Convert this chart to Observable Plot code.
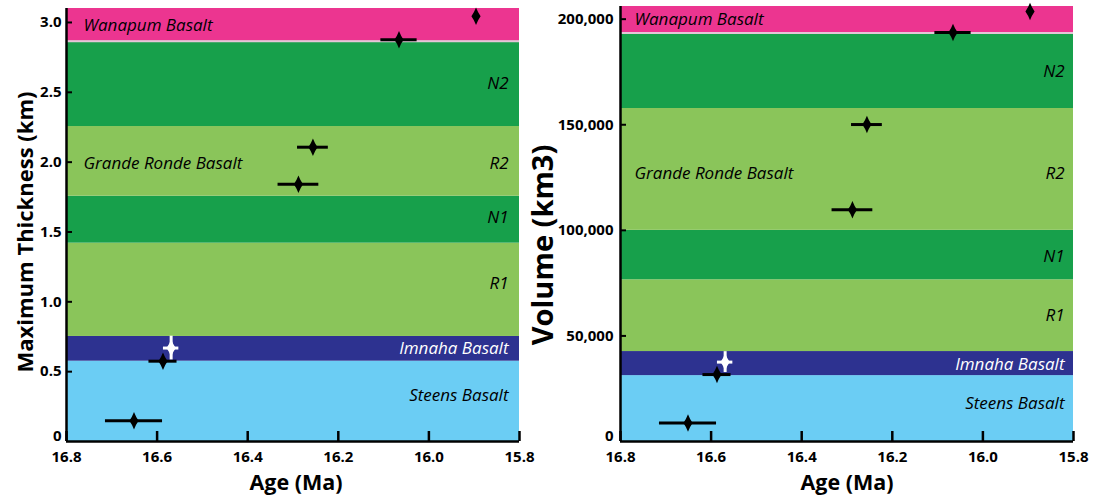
<!DOCTYPE html>
<html>
<head>
<meta charset="utf-8">
<script src="https://cdn.jsdelivr.net/npm/d3@7"></script>
<script src="https://cdn.jsdelivr.net/npm/@observablehq/plot@0.6"></script>
<style>
  html, body { margin: 0; padding: 0; background: #ffffff; }
  #wrap { display: flex; width: 1093px; height: 495px; overflow: hidden; }
</style>
</head>
<body>
<div id="wrap"></div>
<script>
// ---------- data ----------
const ages = [16.651, 16.587, 16.569, 16.288, 16.256, 16.066, 15.896];
const ageErrors = [0.063, 0.031, 0.017, 0.045, 0.034, 0.04, 0];
const thicknessKm = [0.148, 0.575, 0.669, 1.842, 2.107, 2.876, 3.045];
const thicknessErrors = [0, 0, 0.085, 0, 0, 0, 0];
const volumeKm3 = [8800, 31700, 37600, 109800, 150100, 193700, 203600];
const volumeErrors = [0, 0, 4950, 0, 0, 0, 0];
const markerColors = ["black", "black", "white", "black", "black", "black", "black"];

const units = ["Steens Basalt", "Imnaha Basalt", "R1", "N1", "R2", "N2", "Wanapum Basalt"];
const unitColors = ["#6bcdf4", "#2d3290", "#8ac55a", "#17a04b", "#8ac55a", "#17a04b", "#ec3590"];
const thicknessBreaks = [0, 0.575, 0.752, 1.42, 1.756, 2.255, 2.866, 3.1];
const volumeBreaks = [0, 31200, 42600, 76600, 100000, 157700, 193400, 206000];

const bandLabels = ["Wanapum Basalt", "Grande Ronde Basalt", "N2", "R2", "N1", "R1", "Imnaha Basalt", "Steens Basalt"];
const bandLabelSides = ["start", "start", "end", "end", "end", "end", "end", "end"];
const bandLabelColors = ["black", "black", "black", "black", "black", "black", "white", "black"];
const thicknessLabelY = [2.98, 1.99, 2.56, 1.99, 1.6, 1.13, 0.666, 0.33];
const volumeLabelY = [200000, 127100, 175000, 127100, 87700, 59600, 36300, 18000];

const ageTicks = [16.8, 16.6, 16.4, 16.2, 16.0, 15.8];
const thicknessTicks = [0, 0.5, 1.0, 1.5, 2.0, 2.5, 3.0];
const volumeTicks = [0, 50000, 100000, 150000, 200000];

// ---------- helpers ----------
const tallDiamond = {
  draw(context, size) {
    const r = Math.sqrt(size / Math.PI);
    const w = r, h = r * 1.9, c = 0.42;
    context.moveTo(0, -h);
    context.quadraticCurveTo(c * w, -c * h, w, 0);
    context.quadraticCurveTo(c * w, c * h, 0, h);
    context.quadraticCurveTo(-c * w, c * h, -w, 0);
    context.quadraticCurveTo(-c * w, -c * h, 0, -h);
    context.closePath();
  }
};

function panel(cfg) {
  const pts = ages.map((a, i) => ({
    age: a, aerr: ageErrors[i], v: cfg.values[i], verr: cfg.errors[i], c: markerColors[i]
  }));
  const bands = units.map((u, i) => ({
    unit: u, lo: cfg.breaks[i], hi: cfg.breaks[i + 1], c: unitColors[i]
  }));
  const labs = bandLabels.map((t, i) => ({
    text: t, side: bandLabelSides[i], y: cfg.labelY[i], c: bandLabelColors[i]
  }));
  const xMin = ageTicks[0], xMax = ageTicks[ageTicks.length - 1];
  const yBase = cfg.breaks[0];
  return Plot.plot({
    width: cfg.width,
    height: 495,
    marginLeft: cfg.marginLeft,
    marginRight: cfg.marginRight,
    marginTop: cfg.marginTop,
    marginBottom: 54,
    style: { fontFamily: '"Open Sans", sans-serif', background: "transparent", overflow: "visible" },
    x: { domain: [xMin, xMax] },
    y: { domain: [yBase, cfg.breaks[cfg.breaks.length - 1]] },
    color: { type: "identity" },
    marks: [
      Plot.rect(bands, { y1: "lo", y2: "hi", fill: "c" }),
      Plot.ruleY([cfg.breaks[6]], { stroke: "#e3c7d8", strokeWidth: 2 }),
      Plot.text(labs.filter(d => d.side === "start"), {
        x: () => xMin, y: "y", text: "text", fill: "c", textAnchor: "start",
        dx: cfg.startPad, fontSize: 17, fontStyle: "italic", lineAnchor: "middle"
      }),
      Plot.text(labs.filter(d => d.side === "end"), {
        x: () => xMax, y: "y", text: "text", fill: "c", textAnchor: "end",
        dx: -cfg.endPad, fontSize: 17, fontStyle: "italic", lineAnchor: "middle"
      }),
      Plot.ruleY(pts.filter(d => d.aerr > 0), {
        y: "v", x1: d => d.age - d.aerr, x2: d => d.age + d.aerr, stroke: "c", strokeWidth: 3
      }),
      Plot.ruleX(pts.filter(d => d.verr > 0), {
        x: "age", y1: d => d.v - d.verr, y2: d => d.v + d.verr, stroke: "c", strokeWidth: 3
      }),
      Plot.dot(pts, { x: "age", y: "v", fill: "c", symbol: tallDiamond, r: 4.6, stroke: null }),
      Plot.ruleX([xMin], { strokeWidth: 2.5, stroke: "black" }),
      Plot.ruleY([yBase], { strokeWidth: 2.5, stroke: "black" }),
      Plot.axisX({
        ticks: ageTicks, tickFormat: d => d.toFixed(1), tickSize: -10, tickPadding: 20,
        strokeWidth: 2.5, fontSize: 15, fontWeight: "bold", label: null, fill: "black"
      }),
      Plot.axisY({
        ticks: cfg.yTicks.filter(t => t !== yBase), tickFormat: cfg.yFormat, tickSize: -6, tickPadding: cfg.yPad,
        strokeWidth: 2, fontSize: 15, fontWeight: "bold", label: null, fill: "black"
      }),
      Plot.axisY({
        ticks: [yBase], tickFormat: cfg.yFormat, tickSize: 0, tickPadding: cfg.yPad - 6, dy: -5,
        fontSize: 15, fontWeight: "bold", label: null, fill: "black"
      }),
      Plot.text(["Age (Ma)"], {
        frameAnchor: "bottom", text: d => d, dy: 48, dx: cfg.xTitleDx, fontSize: 21.5,
        fontWeight: "bold", lineAnchor: "bottom", textAnchor: "middle", fill: "black"
      }),
      Plot.text([cfg.yTitle], {
        frameAnchor: "left", text: d => d, rotate: -90, dx: cfg.yTitleDx, dy: cfg.yTitleDy,
        fontSize: cfg.yTitleSize, fontWeight: "bold", lineAnchor: "middle", textAnchor: "middle", fill: "black"
      })
    ]
  });
}

const left = panel({
  values: thicknessKm, errors: thicknessErrors, breaks: thicknessBreaks, labelY: thicknessLabelY,
  yTicks: thicknessTicks, yFormat: d => d === 0 ? "0" : d.toFixed(1),
  width: 530, marginLeft: 66, marginRight: 11, marginTop: 8,
  startPad: 17, endPad: 11, yPad: 11, xTitleDx: 3,
  yTitle: "Maximum Thickness (km)", yTitleDx: -41, yTitleDy: 7, yTitleSize: 22
});
const right = panel({
  values: volumeKm3, errors: volumeErrors, breaks: volumeBreaks, labelY: volumeLabelY,
  yTicks: volumeTicks, yFormat: d3.format(","),
  width: 563, marginLeft: 90, marginRight: 20, marginTop: 6,
  startPad: 14, endPad: 9, yPad: 13, xTitleDx: 0,
  yTitle: "Volume (km3)", yTitleDx: -77, yTitleDy: 21, yTitleSize: 29
});
document.getElementById("wrap").append(left, right);
</script>
</body>
</html>
